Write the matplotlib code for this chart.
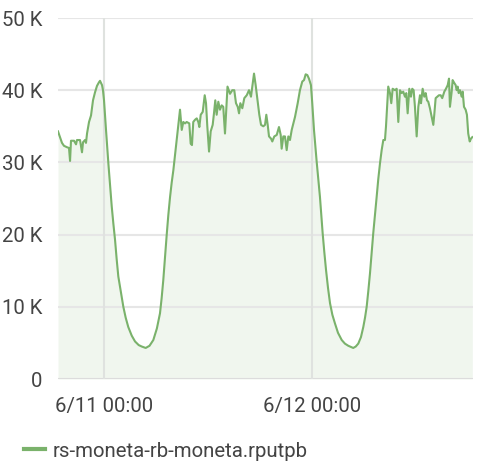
import numpy as np
import matplotlib
matplotlib.use("Agg")
import matplotlib.pyplot as plt
from matplotlib.lines import Line2D

# hours relative to 6/11 00:00, values in requests
hours = [-5.31, -5.08, -4.85, -4.62, -4.27, -4.04, -3.92, -3.81, -3.46, -3.23,
         -3.12, -2.77, -2.54, -2.42, -2.19, -2.08, -1.96, -1.73, -1.50, -1.27,
         -1.04, -0.81, -0.58, -0.46, -0.23, -0.12, 0.00, 0.06, 0.23, 0.50,
         0.70, 0.89, 1.08, 1.27, 1.46, 1.65, 1.95, 2.23, 2.50, 2.80,
         3.20, 3.58, 4.00, 4.35, 4.81, 5.25, 5.69, 6.10, 6.46, 6.65,
         6.84, 7.03, 7.23, 7.42, 7.62, 7.81, 8.00, 8.39, 8.77, 8.97,
         9.15, 9.35, 9.54, 9.84, 10.00, 10.15, 10.30, 10.50, 10.70, 10.88,
         11.00, 11.16, 11.39, 11.62, 11.77, 11.92, 12.12, 12.31, 12.54, 12.69,
         12.84, 13.00, 13.19, 13.38, 13.58, 13.76, 13.96, 14.25, 14.54, 14.80,
         15.03, 15.23, 15.43, 15.58, 15.73, 15.96, 16.19, 16.47, 16.73, 16.96,
         17.31, 17.50, 17.69, 17.92, 18.12, 18.38, 18.58, 18.73, 18.89, 19.04,
         19.27, 19.42, 19.65, 19.93, 20.19, 20.39, 20.50, 20.69, 20.88, 21.08,
         21.27, 21.46, 21.66, 22.04, 22.35, 22.61, 22.88, 23.08, 23.27, 23.46,
         23.65, 23.88, 24.03, 24.23, 24.38, 24.54, 24.73, 24.92, 25.07, 25.23,
         25.42, 25.62, 25.85, 26.08, 26.35, 26.65, 27.00, 27.43, 27.80, 28.19,
         28.76, 29.05, 29.34, 29.65, 29.92, 30.12, 30.31, 30.50, 30.69, 30.88,
         31.07, 31.27, 31.46, 31.65, 31.85, 32.04, 32.23, 32.42, 32.54, 32.80,
         33.00, 33.15, 33.31, 33.58, 33.77, 33.96, 34.15, 34.35, 34.53, 34.73,
         34.88, 35.04, 35.23, 35.42, 35.57, 35.73, 35.88, 36.08, 36.27, 36.46,
         36.58, 36.77, 36.96, 37.12, 37.27, 37.42, 37.61, 37.81, 38.00, 38.11,
         38.27, 38.46, 38.65, 38.85, 39.03, 39.27, 39.46, 39.66, 39.81, 39.92,
         40.12, 40.23, 40.42, 40.58, 40.70, 40.81, 40.93, 41.08, 41.27, 41.39,
         41.54, 41.73, 41.88, 42.03, 42.20, 42.35, 42.50]
values = [34300, 33500, 32700, 32300, 32100, 32000, 30200, 33000, 33000, 32500,
          33100, 33100, 31400, 32800, 33100, 32700, 34000, 35600, 36500, 38600,
          39700, 40600, 41100, 41300, 40700, 40000, 38600, 37500, 34500, 29900,
          26800, 23900, 21500, 19300, 16600, 14200, 12000, 10000, 8500, 7200,
          6000, 5200, 4700, 4500, 4300, 4600, 5400, 7000, 9100, 11200,
          13700, 16800, 19900, 22700, 25200, 27200, 28900, 33100, 37300, 34500,
          35600, 35400, 35600, 35400, 32600, 32400, 35600, 35900, 36100, 35600,
          34900, 36600, 37000, 39300, 38200, 35000, 31500, 34300, 35200, 36800,
          38600, 36600, 38400, 37300, 37900, 37700, 34000, 40500, 39500, 40000,
          40000, 38200, 37700, 36800, 38200, 37500, 38900, 39300, 40000, 39100,
          42300, 40700, 38900, 36600, 35200, 35000, 35200, 36600, 35200, 33600,
          33300, 32900, 33600, 33800, 34900, 33800, 31900, 33600, 33600, 31700,
          33600, 33100, 34500, 36300, 38200, 40000, 41200, 41400, 42200, 42100,
          41600, 40700, 38200, 34500, 32300, 30100, 27600, 25200, 22700, 20200,
          17600, 15100, 12600, 10500, 8900, 7700, 6400, 5400, 4900, 4600,
          4300, 4500, 4900, 5800, 7200, 8500, 10000, 12200, 14600, 17400,
          20200, 22700, 25200, 27700, 29900, 31700, 33100, 33100, 35000, 40500,
          39600, 38200, 40200, 40000, 40200, 35600, 40000, 39600, 39800, 39100,
          39600, 36800, 40200, 39100, 40200, 40000, 37700, 33600, 37700, 39300,
          38200, 40200, 39100, 39600, 38600, 38400, 37500, 36300, 35200, 36600,
          38900, 39100, 39300, 39300, 38900, 39800, 40200, 40700, 41600, 37700,
          39800, 41400, 41000, 40700, 40000, 40500, 39600, 40000, 39100, 39800,
          37700, 37300, 36600, 34000, 32900, 33300, 33500]

y_ticks = [0, 10000, 20000, 30000, 40000, 50000]
y_labels = ["0", "10 K", "20 K", "30 K", "40 K", "50 K"]
x_ticks = [0, 24]
x_labels = ["6/11 00:00", "6/12 00:00"]
series_name = "rs-moneta-rb-moneta.rputpb"

line_color = "#7ab26b"
fill_color = "#f0f6ee"
grid_color = "#e6e6e6"
text_color = "#444444"
fs = 14.7

plt.rcParams["font.family"] = ["Roboto", "DejaVu Sans"]

fig = plt.figure(figsize=(4.85, 4.69), dpi=100)
ax = fig.add_axes([58 / 485, 1 - 379 / 469, 415 / 485, 361 / 469])

ax.fill_between(hours, values, 0, color=fill_color, lw=0, zorder=1)
ax.plot(hours, values, color=line_color, lw=1.5, zorder=3)

ax.set_xlim(hours[0], hours[-1] + 0.08)
ax.set_ylim(0, 50000)

ax.set_yticks(y_ticks)
ax.set_yticklabels(y_labels)
ax.set_xticks(x_ticks)
ax.set_xticklabels(x_labels)

for v in y_ticks[1:]:
    ax.axhline(v, color=grid_color, lw=1.5, zorder=2)
ax.axhline(0, color="#dcdcdc", lw=1.5, zorder=2)
for h in x_ticks:
    ax.axvline(h, color="#dfe2df", lw=1.5, zorder=2)

for s in ax.spines.values():
    s.set_visible(False)
ax.tick_params(axis="both", length=0, labelsize=fs, labelcolor=text_color)
ax.tick_params(axis="y", pad=11)
ax.tick_params(axis="x", pad=13)

handle = Line2D([], [], color=line_color, lw=3)
fs_px = fs * 100 / 72
fig.legend([handle], [series_name], loc="center left",
           bbox_to_anchor=(24 / 485, 1 - 451 / 469), frameon=False,
           fontsize=fs, labelcolor=text_color,
           handlelength=21 / fs_px, handletextpad=8 / fs_px,
           borderpad=0, borderaxespad=0)

fig.savefig("out.png", dpi=100)
